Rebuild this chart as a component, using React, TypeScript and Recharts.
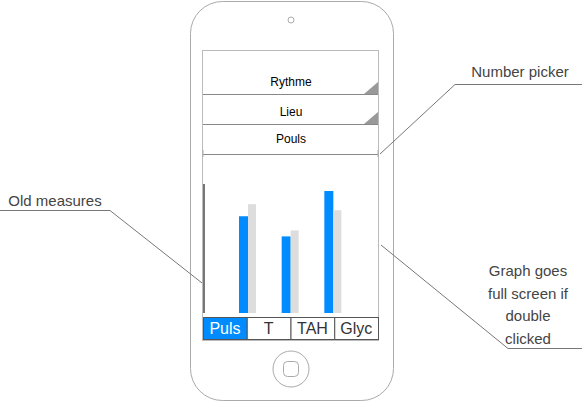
import React from 'react'
import { BarChart, Bar, XAxis, YAxis } from 'recharts'

const categories = ['Puls', 'T', 'Glyc']
const currentValues = [96, 76, 121]
const oldValues = [108, 82, 102]
const tabs = ['Puls', 'T', 'TAH', 'Glyc']
const pickers = ['Rythme', 'Lieu', 'Pouls']

const data = categories.map((c, i) => ({ name: c, current: currentValues[i], old: oldValues[i] }))

const font = '"Liberation Sans", Arial, Helvetica, sans-serif'

export default function App() {
  return (
    <div style={{ position: 'fixed', left: 0, top: 0, width: 582, height: 404, background: '#fff', fontFamily: font }}>
      <svg width={582} height={404} style={{ position: 'absolute', left: 0, top: 0 }} fontFamily={font}>
        {/* phone */}
        <rect x={190.5} y={1.5} width={203} height={399} rx={32} fill="#fff" stroke="#aaa" />
        <circle cx={291} cy={20} r={3} fill="none" stroke="#aaa" />
        <circle cx={291} cy={369} r={18} fill="none" stroke="#aaa" />
        <rect x={283.5} y={361.5} width={15} height={15} rx={4} fill="none" stroke="#aaa" />
        <rect x={202.5} y={50.5} width={176} height={290} fill="none" stroke="#bbb" />
        {/* pickers */}
        {pickers.map((p, i) => (
          <g key={p}>
            <line x1={203} x2={378} y1={94.5 + i * 30} y2={94.5 + i * 30} stroke="#888" />
            <text x={291} y={86 + i * 30 - (i === 2 ? 3 : 0)} textAnchor="middle" fontSize={12} fill="#000">{p}</text>
            {i < 2 && <polygon points={`${378},${82 + i * 30} ${378},${94 + i * 30} ${364},${94 + i * 30}`} fill="#999" />}
          </g>
        ))}
        <line x1={378} x2={378} y1={150} y2={157} stroke="#aaa" />
        <line x1={203} x2={203} y1={150} y2={157} stroke="#aaa" />
        {/* annotations */}
        <text x={520} y={77} textAnchor="middle" fontSize={15} fill="#444">Number picker</text>
        <polyline points="582,84.5 455,84.5 380,154" fill="none" stroke="#777" />
        <text x={55} y={206} textAnchor="middle" fontSize={15} fill="#444">Old measures</text>
        <polyline points="0,210.5 110,210.5 202,283" fill="none" stroke="#777" />
        {['Graph goes', 'full screen if', 'double', 'clicked'].map((t, i) => (
          <text key={t} x={528} y={276 + i * 22.5} textAnchor="middle" fontSize={15} fill="#444">{t}</text>
        ))}
        <polyline points="582,348.5 508,348.5 381,245" fill="none" stroke="#777" />
        {/* tabs */}
        {tabs.map((t, i) => (
          <g key={t}>
            <rect x={203.5 + i * 43.75} y={317.5} width={43.75} height={22} fill={i === 0 ? '#008cff' : '#fff'} stroke="#555" />
            <text x={225 + i * 43.75} y={334} textAnchor="middle" fontSize={16} fill={i === 0 ? '#fff' : '#333'}>{t}</text>
          </g>
        ))}
      </svg>
      <div style={{ position: 'absolute', left: 202, top: 184 }}>
        <BarChart width={176} height={129} data={data} margin={{ top: 0, right: 0, bottom: 0, left: 0 }} barGap={0}>
          <XAxis dataKey="name" hide padding={{ left: 22, right: 24 }} />
          <YAxis domain={[0, 128]} width={2} tick={false} axisLine={{ stroke: '#777', strokeWidth: 2 }} tickLine={false} />
          <Bar dataKey="current" fill="#008cff" barSize={9} isAnimationActive={false} />
          <Bar dataKey="old" fill="#dddddd" barSize={8} isAnimationActive={false} />
        </BarChart>
      </div>
    </div>
  )
}
